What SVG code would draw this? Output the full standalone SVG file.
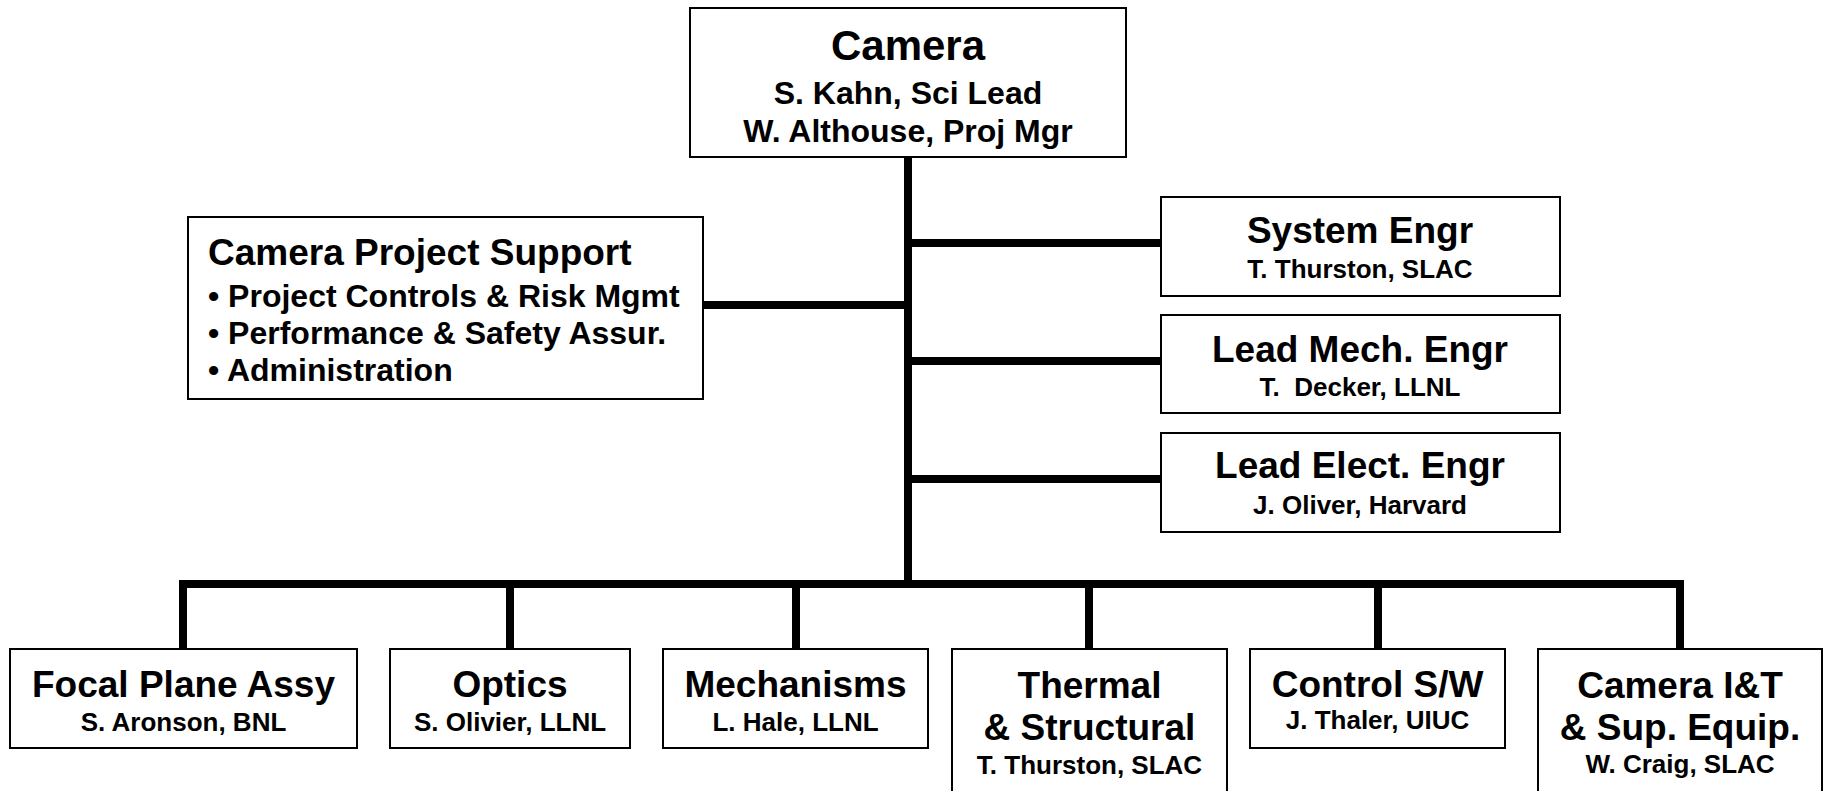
<svg xmlns="http://www.w3.org/2000/svg" width="1829" height="791" viewBox="0 0 1829 791">
<style>
.box{fill:#fff;stroke:#000;stroke-width:2}
.ln{stroke:#000;stroke-width:8;fill:none;stroke-linecap:butt}
text{font-family:"Liberation Sans",Arial,sans-serif;font-weight:bold;fill:#000}
.c{text-anchor:middle}
.t{font-size:37px}
.s{font-size:26px}
.b{font-size:32px}
</style>
<rect width="1829" height="791" fill="#fff"/>
<g id="connectors">
<path class="ln" d="M908 157V588"/>
<path class="ln" d="M179 584H1684"/>
<path class="ln" d="M908 243H1160M908 361H1160M908 479H1160M703 305H908"/>
<path class="ln" d="M183 584V649M510 584V649M796 584V649M1089 584V649M1378 584V649M1680 584V649"/>
</g>
<g id="camera">
<rect class="box" x="690" y="8" width="436" height="149"/>
<text class="c" x="908" y="60" font-size="42">Camera</text>
<text class="c" x="908" y="104" font-size="32">S. Kahn, Sci Lead</text>
<text class="c" x="908" y="142" font-size="32">W. Althouse, Proj Mgr</text>
</g>
<g id="project-support">
<rect class="box" x="188" y="217" width="515" height="182"/>
<text class="t" x="208" y="265">Camera Project Support</text>
<text class="b" x="208" y="307">• Project Controls &amp; Risk Mgmt</text>
<text class="b" x="208" y="344">• Performance &amp; Safety Assur.</text>
<text class="b" x="208" y="381">• Administration</text>
</g>
<g id="system-engr">
<rect class="box" x="1161" y="197" width="399" height="99"/>
<text class="c t" x="1360" y="243">System Engr</text>
<text class="c s" x="1360" y="278">T. Thurston, SLAC</text>
</g>
<g id="lead-mech">
<rect class="box" x="1161" y="315" width="399" height="98"/>
<text class="c t" x="1360" y="362">Lead Mech. Engr</text>
<text class="c s" x="1360" y="396">T.&#160; Decker, LLNL</text>
</g>
<g id="lead-elect">
<rect class="box" x="1161" y="433" width="399" height="99"/>
<text class="c t" x="1360" y="478">Lead Elect. Engr</text>
<text class="c s" x="1360" y="514">J. Oliver, Harvard</text>
</g>
<g id="focal-plane">
<rect class="box" x="10" y="649" width="347" height="99"/>
<text class="c t" x="183.5" y="697">Focal Plane Assy</text>
<text class="c s" x="183.5" y="731">S. Aronson, BNL</text>
</g>
<g id="optics">
<rect class="box" x="390" y="649" width="240" height="99"/>
<text class="c t" x="510" y="697">Optics</text>
<text class="c s" x="510" y="731">S. Olivier, LLNL</text>
</g>
<g id="mechanisms">
<rect class="box" x="663" y="649" width="265" height="99"/>
<text class="c t" x="795.5" y="697">Mechanisms</text>
<text class="c s" x="795.5" y="731">L. Hale, LLNL</text>
</g>
<g id="thermal">
<rect class="box" x="952" y="649" width="275" height="145"/>
<text class="c t" x="1089.5" y="698">Thermal</text>
<text class="c t" x="1089.5" y="740">&amp; Structural</text>
<text class="c s" x="1089.5" y="774">T. Thurston, SLAC</text>
</g>
<g id="control-sw">
<rect class="box" x="1250" y="649" width="255" height="99"/>
<text class="c t" x="1377.5" y="697">Control S/W</text>
<text class="c s" x="1377.5" y="729">J. Thaler, UIUC</text>
</g>
<g id="camera-it">
<rect class="box" x="1538" y="649" width="284" height="145"/>
<text class="c t" x="1680" y="698">Camera I&amp;T</text>
<text class="c t" x="1680" y="740">&amp; Sup. Equip.</text>
<text class="c s" x="1680" y="773">W. Craig, SLAC</text>
</g>
</svg>
